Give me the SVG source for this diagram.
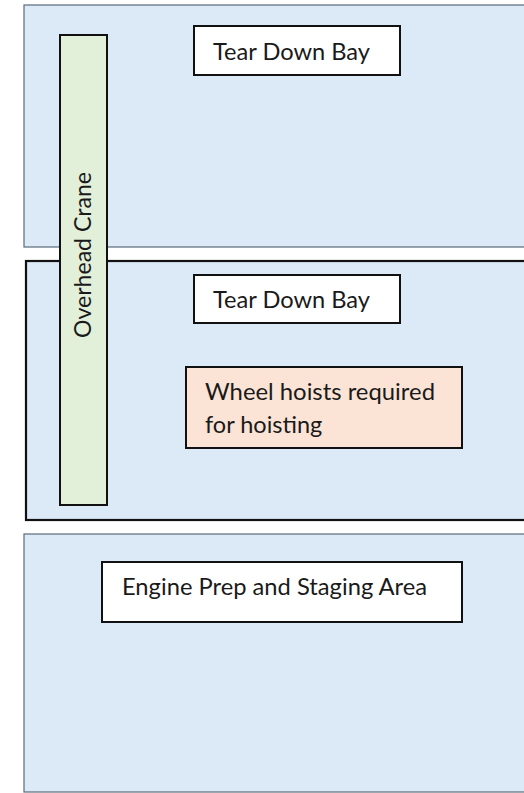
<svg xmlns="http://www.w3.org/2000/svg" width="524" height="793" viewBox="0 0 524 793">
<style>
.bay{fill:#dce9f6;stroke:#5b6b7b;stroke-width:1.2}
.bay2{fill:#dce9f6;stroke:#111;stroke-width:2.2}
.box{fill:#fff;stroke:#111;stroke-width:2}
.t{font-family:Lato,"Open Sans","Liberation Sans",sans-serif;font-size:23.5px;fill:#1a1a1a}
</style>
<rect width="524" height="793" fill="#fff"/>
<g id="bay-top"><rect class="bay" x="24" y="5" width="510" height="242"/></g>
<g id="bay-middle"><rect class="bay2" x="26" y="261" width="510" height="259"/></g>
<g id="bay-bottom"><rect class="bay" x="24" y="534" width="510" height="258"/></g>
<g id="crane"><rect x="60" y="35" width="47" height="470" fill="#e2efd9" stroke="#111" stroke-width="2"/>
<text class="t" transform="translate(91,255) rotate(-90)" text-anchor="middle" textLength="166" lengthAdjust="spacingAndGlyphs">Overhead Crane</text></g>
<g id="tdb1"><rect class="box" x="194" y="26" width="206" height="49"/><text class="t" x="213" y="60" textLength="157" lengthAdjust="spacingAndGlyphs">Tear Down Bay</text></g>
<g id="tdb2"><rect class="box" x="194" y="275" width="206" height="48"/><text class="t" x="213" y="308" textLength="157" lengthAdjust="spacingAndGlyphs">Tear Down Bay</text></g>
<g id="hoists"><rect x="186" y="367" width="276" height="81" fill="#fbe4d6" stroke="#111" stroke-width="2"/><text class="t" x="205" y="400" textLength="230" lengthAdjust="spacingAndGlyphs">Wheel hoists required</text><text class="t" x="205" y="433">for hoisting</text></g>
<g id="engine"><rect class="box" x="102" y="562" width="360" height="60"/><text class="t" x="122" y="595" textLength="305" lengthAdjust="spacingAndGlyphs">Engine Prep and Staging Area</text></g>
<g id="connectors"></g>
</svg>
